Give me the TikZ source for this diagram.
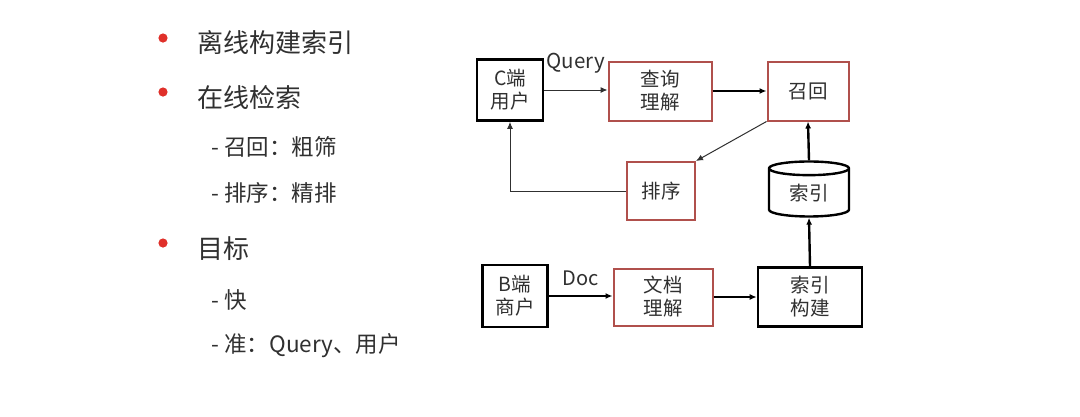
\documentclass[tikz,border=0pt]{standalone}
\usepackage{fontspec}
\setmainfont{Noto Sans CJK SC}
\definecolor{bulletred}{HTML}{E0302A}
\definecolor{boxred}{HTML}{B0504C}
\definecolor{textgray}{HTML}{303030}
\usetikzlibrary{arrows.meta,positioning,shapes.geometric}

\begin{document}
\begin{tikzpicture}[x=1pt,y=-1pt,
  blackbox/.style={draw=black,line width=2.6pt,text=textgray,align=center,
    inner sep=0pt,font=\fontsize{19.5}{23}\selectfont},
  redbox/.style={draw=boxred,line width=2pt,text=textgray,align=center,
    inner sep=0pt,font=\fontsize{19.5}{23}\selectfont},
  thinarrow/.style={-{Latex[length=7pt,width=6pt]},line width=1pt,draw=textgray},
  thickarrow/.style={-{Latex[length=7pt,width=6pt]},line width=2.4pt,draw=black}]
  \useasboundingbox[fill=white] (0,0) rectangle (1080,416);

  % Bullet list
  \foreach \y in {38,92,243} {
    \fill[bulletred] (163,\y) circle (4.6pt);
  }
  \node[anchor=west,text=textgray,font=\fontsize{26}{30}\selectfont] (offline) at (194,43) {离线构建索引};
  \node[anchor=west,text=textgray,font=\fontsize{26}{30}\selectfont] (online) at (194,98) {在线检索};
  \node[anchor=west,text=textgray,font=\fontsize{22.5}{26}\selectfont] (recallitem) at (208,147) {- 召回：粗筛};
  \node[anchor=west,text=textgray,font=\fontsize{22.5}{26}\selectfont] (rankitem) at (208,193) {- 排序：精排};
  \node[anchor=west,text=textgray,font=\fontsize{26}{30}\selectfont] (goal) at (194,249) {目标};
  \node[anchor=west,text=textgray,font=\fontsize{22.5}{26}\selectfont] (fastitem) at (208,300) {- 快};
  \node[anchor=west,text=textgray,font=\fontsize{22.5}{26}\selectfont] (accitem) at (208,346) {- 准：Query、用户};

  % Online retrieval
  \node[blackbox,minimum width=66pt,minimum height=61pt] (cuser) at (510,90) {C端\\用户};
  \node[redbox,minimum width=103pt,minimum height=59pt] (queryu) at (660,91) {查询\\理解};
  \node[redbox,minimum width=81pt,minimum height=59pt] (recall) at (808,91) {召回};
  \node[redbox,minimum width=68pt,minimum height=58pt] (rank) at (661,191) {排序};
  \node[draw=black,line width=2.4pt,cylinder,shape border rotate=90,aspect=0.35,
    minimum width=80pt,minimum height=55pt,inner sep=0pt,text=textgray,
    font=\fontsize{19.5}{23}\selectfont] (index) at (809,193) {索引};

  \draw[thinarrow] (cuser.east) -- (cuser.east -| queryu.west)
    node[midway,above=13pt,text=textgray,font=\fontsize{20.5}{23}\selectfont] (qlabel) {Query};
  \draw[thickarrow] (queryu.east) -- (queryu.east -| recall.west);
  \draw[thinarrow] (recall.south west) -- (rank.north east);
  \draw[thinarrow] (rank.west) -| (cuser.south);
  \draw[thickarrow] (index.north) -- (recall.south);

  % Offline index building
  \node[blackbox,minimum width=65pt,minimum height=62pt] (buser) at (515,296) {B端\\商户};
  \node[redbox,minimum width=99pt,minimum height=57pt] (docu) at (663,297) {文档\\理解};
  \node[blackbox,minimum width=104pt,minimum height=59pt] (build) at (810,297) {索引\\构建};

  \draw[thickarrow,line width=1.8pt] (buser.east) -- (buser.east -| docu.west)
    node[midway,above=6pt,text=textgray,font=\fontsize{20}{22}\selectfont] (dlabel) {Doc};
  \draw[thickarrow,line width=1.8pt] (docu.east) -- (docu.east -| build.west);
  \draw[thickarrow] (build.north) -- (index.south);
\end{tikzpicture}
\end{document}
